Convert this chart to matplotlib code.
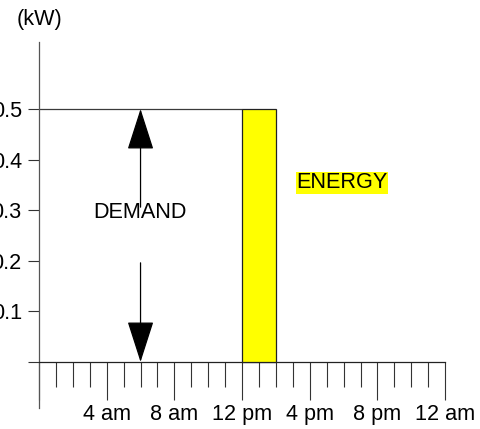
import numpy as np
import matplotlib
matplotlib.use("Agg")
import matplotlib.pyplot as plt

plt.rcParams["font.family"] = ["Liberation Sans", "DejaVu Sans"]

# data
hours_major = [0, 4, 8, 12, 16, 20, 24]
hour_labels = ["", "4 am", "8 am", "12 pm", "4 pm", "8 pm", "12 am"]
hours_minor = list(range(0, 25))
kw_ticks = [0.0, 0.1, 0.2, 0.3, 0.4, 0.5]
kw_labels = ["", "0.1", "0.2", "0.3", "0.4", "0.5"]
bar_start = 12
bar_hours = 2
demand_kw = 0.5
arrow_hour = 6
demand_label_kw = 0.296

fs = 15.6
line_col = "#3a3a3a"

fig = plt.figure(figsize=(4.81, 4.29), dpi=100)
ax = fig.add_axes([0, 0, 1, 1])
ax.set_xlim(-2.305, 26.12)
ax.set_ylim(-0.1324, 0.7154)
ax.patch.set_alpha(0)

for s in ["top", "right"]:
    ax.spines[s].set_visible(False)
ax.spines["left"].set_position(("data", 0))
ax.spines["bottom"].set_position(("data", 0))
ax.spines["left"].set_bounds(-0.091, 0.632)
ax.spines["bottom"].set_bounds(0, 24)
ax.spines["left"].set_color("#555555")
ax.spines["bottom"].set_color("#222222")
ax.spines["left"].set_linewidth(0.9)
ax.spines["bottom"].set_linewidth(0.9)

ax.set_xticks(hours_major)
ax.set_xticklabels(hour_labels, fontsize=fs)
ax.set_xticks(hours_minor, minor=True)
ax.tick_params(axis="x", which="major", direction="out", length=27.5, width=0.8,
               color="#333333", pad=3)
ax.tick_params(axis="x", which="minor", direction="out", length=18, width=0.8,
               color="#333333")
ax.set_yticks(kw_ticks)
ax.set_yticklabels(kw_labels, fontsize=fs)
ax.tick_params(axis="y", which="major", direction="out", length=7.7, width=0.8,
               color="#333333", pad=4.7)

# energy block
ax.bar(bar_start, demand_kw, width=bar_hours, align="edge", color="#ffff00",
       edgecolor="#222222", linewidth=0.9, zorder=3)
ax.hlines(demand_kw, 0, bar_start, color=line_col, linewidth=0.9)

# demand arrows
arrow_style = "-|>,head_length=2.65,head_width=0.85"
ax.annotate("", xy=(arrow_hour, demand_kw), xytext=(arrow_hour, 0.306),
            arrowprops=dict(arrowstyle=arrow_style, color="black", lw=0.9,
                            shrinkA=0, shrinkB=0, mutation_scale=10))
ax.annotate("", xy=(arrow_hour, 0), xytext=(arrow_hour, 0.196),
            arrowprops=dict(arrowstyle=arrow_style, color="black", lw=0.9,
                            shrinkA=0, shrinkB=0, mutation_scale=10))

ax.text(5.97, demand_label_kw, "DEMAND", fontsize=fs, ha="center", va="center")
ax.text(17.9, 0.354, "ENERGY", fontsize=fs, ha="center", va="center",
        bbox=dict(facecolor="#ffff00", edgecolor="none", pad=0.5))
ax.text(0, 0.676, "(kW)", fontsize=fs, ha="center", va="center")

fig.savefig("out.png", dpi=100)
